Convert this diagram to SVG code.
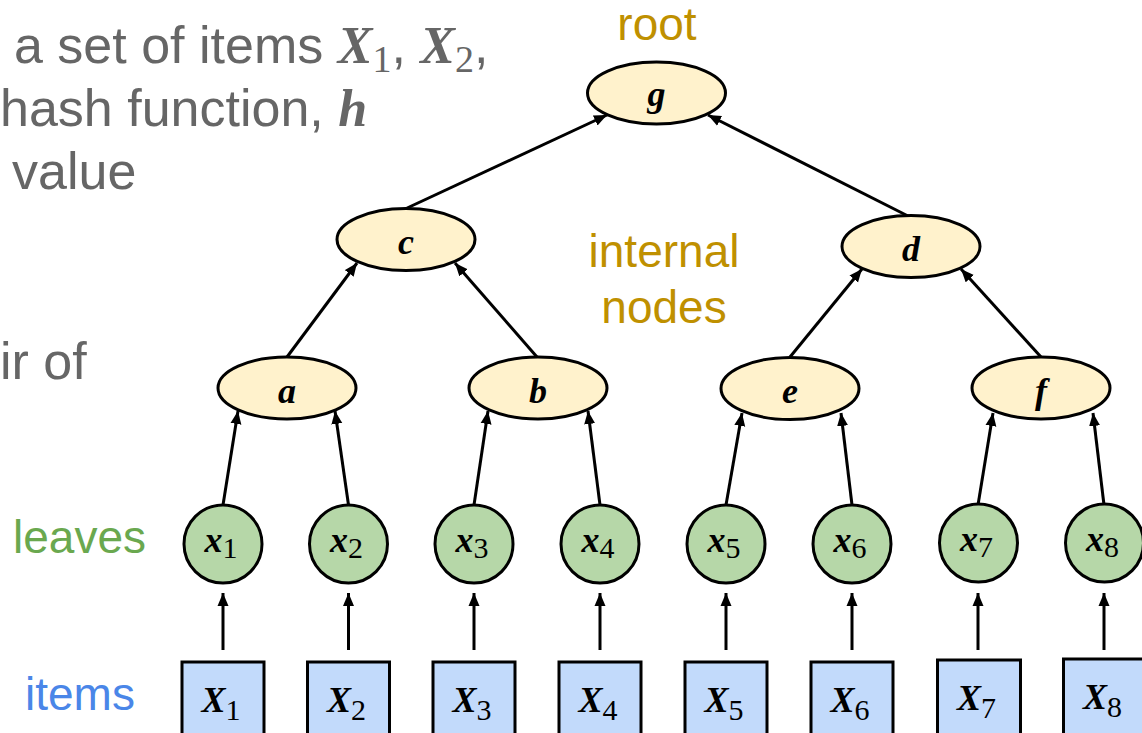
<svg xmlns="http://www.w3.org/2000/svg" width="1142" height="733" viewBox="0 0 1142 733">
  <style>
    .caption { font-family: "Liberation Sans", Arial, sans-serif; font-size: 52px; fill: #666666; }
    .tag { font-family: "Liberation Sans", Arial, sans-serif; font-size: 46px; }
    .math { font-family: "Liberation Serif", "Times New Roman", serif; font-weight: bold; font-style: italic; }
    .sub { font-family: "Liberation Serif", "Times New Roman", serif; font-weight: normal; font-style: normal; }
    .internal ellipse { fill: #fff2cc; stroke: #000; stroke-width: 3; }
    .leaf circle { fill: #b6d7a8; stroke: #000; stroke-width: 3; }
    .item rect { fill: #c2dafb; stroke: #000; stroke-width: 3; }
    .lbl { font-family: "Liberation Serif", "Times New Roman", serif; font-weight: bold; font-style: italic; font-size: 36px; fill: #000; text-anchor: middle; }
    .edges line { stroke: #000; stroke-width: 3; marker-end: url(#tip); }
  </style>
  <defs>
    <marker id="tip" markerUnits="userSpaceOnUse" markerWidth="14" markerHeight="12" refX="13" refY="6" orient="auto">
      <path d="M0,0.5 L13,6 L0,11.5 Z" fill="#000"/>
    </marker>
  </defs>

  <rect width="1142" height="733" fill="#ffffff"/>

  <!-- explanatory text on the left -->
  <g id="caption">
    <text class="caption" x="14" y="63">a set of items <tspan class="math">X</tspan><tspan class="sub" font-size="38" dy="9">1</tspan><tspan dy="-9">, </tspan><tspan class="math">X</tspan><tspan class="sub" font-size="38" dy="9">2</tspan><tspan dy="-9">,</tspan></text>
    <text class="caption" x="0" y="126">hash function, <tspan class="math">h</tspan></text>
    <text class="caption" x="12" y="189">value</text>
    <text class="caption" x="0" y="379">ir of</text>
  </g>

  <!-- level labels -->
  <g id="labels">
    <text class="tag" x="657" y="40" fill="#bf9000" text-anchor="middle">root</text>
    <text class="tag" x="664" y="267" fill="#bf9000" text-anchor="middle">internal</text>
    <text class="tag" x="664" y="323" fill="#bf9000" text-anchor="middle">nodes</text>
    <text class="tag" x="13" y="553" fill="#6aa84f">leaves</text>
    <text class="tag" x="25" y="710" fill="#4a86e8">items</text>
  </g>

  <!-- connectors -->
  <g id="edges" class="edges">
    <!-- internal levels -->
    <line x1="405" y1="209" x2="607" y2="115"/>
    <line x1="910" y1="217" x2="708" y2="115"/>
    <line x1="287" y1="357" x2="357" y2="263"/>
    <line x1="537" y1="357" x2="455" y2="263"/>
    <line x1="790" y1="357" x2="862" y2="269"/>
    <line x1="1041" y1="357" x2="961" y2="269"/>
    <!-- leaves to parents -->
    <line x1="223" y1="505" x2="238" y2="411"/>
    <line x1="348.5" y1="505" x2="335" y2="411"/>
    <line x1="474" y1="505" x2="488" y2="411"/>
    <line x1="600" y1="505" x2="588" y2="411"/>
    <line x1="726" y1="505" x2="742" y2="413"/>
    <line x1="852" y1="505" x2="841" y2="413"/>
    <line x1="978" y1="505" x2="993" y2="413"/>
    <line x1="1104" y1="505" x2="1093" y2="413"/>
    <!-- items to leaves -->
    <line x1="223" y1="650" x2="223" y2="593"/>
    <line x1="348.5" y1="650" x2="348.5" y2="593"/>
    <line x1="474" y1="650" x2="474" y2="593"/>
    <line x1="600" y1="650" x2="600" y2="593"/>
    <line x1="726" y1="650" x2="726" y2="593"/>
    <line x1="852" y1="650" x2="852" y2="593"/>
    <line x1="978" y1="650" x2="978" y2="593"/>
    <line x1="1104" y1="650" x2="1104" y2="593"/>
  </g>

  <!-- internal nodes -->
  <g id="node-g" class="internal"><ellipse cx="656.5" cy="93" rx="69" ry="31"/><text class="lbl" x="656.5" y="106">g</text></g>
  <g id="node-c" class="internal"><ellipse cx="406" cy="239.5" rx="69" ry="31"/><text class="lbl" x="406" y="254">c</text></g>
  <g id="node-d" class="internal"><ellipse cx="911" cy="246.5" rx="69" ry="31"/><text class="lbl" x="911" y="261">d</text></g>
  <g id="node-a" class="internal"><ellipse cx="287" cy="388" rx="69" ry="31"/><text class="lbl" x="287" y="403">a</text></g>
  <g id="node-b" class="internal"><ellipse cx="538" cy="388" rx="69" ry="31"/><text class="lbl" x="538" y="403">b</text></g>
  <g id="node-e" class="internal"><ellipse cx="790" cy="388.5" rx="69" ry="31"/><text class="lbl" x="790" y="403">e</text></g>
  <g id="node-f" class="internal"><ellipse cx="1041" cy="388" rx="69" ry="31"/><text class="lbl" x="1041" y="403">f</text></g>

  <!-- leaves -->
  <g id="leaf-1" class="leaf"><circle cx="223" cy="544" r="39"/><text class="lbl" x="221" y="552" font-size="40">x<tspan class="sub" font-size="30" dy="6">1</tspan></text></g>
  <g id="leaf-2" class="leaf"><circle cx="348.5" cy="544" r="39"/><text class="lbl" x="346.5" y="552" font-size="40">x<tspan class="sub" font-size="30" dy="6">2</tspan></text></g>
  <g id="leaf-3" class="leaf"><circle cx="474" cy="544" r="39"/><text class="lbl" x="472" y="552" font-size="40">x<tspan class="sub" font-size="30" dy="6">3</tspan></text></g>
  <g id="leaf-4" class="leaf"><circle cx="600" cy="544" r="39"/><text class="lbl" x="598" y="552" font-size="40">x<tspan class="sub" font-size="30" dy="6">4</tspan></text></g>
  <g id="leaf-5" class="leaf"><circle cx="726" cy="544" r="39"/><text class="lbl" x="724" y="552" font-size="40">x<tspan class="sub" font-size="30" dy="6">5</tspan></text></g>
  <g id="leaf-6" class="leaf"><circle cx="852" cy="544" r="39"/><text class="lbl" x="850" y="552" font-size="40">x<tspan class="sub" font-size="30" dy="6">6</tspan></text></g>
  <g id="leaf-7" class="leaf"><circle cx="978.5" cy="543" r="39"/><text class="lbl" x="976.5" y="551" font-size="40">x<tspan class="sub" font-size="30" dy="6">7</tspan></text></g>
  <g id="leaf-8" class="leaf"><circle cx="1104.5" cy="543" r="39"/><text class="lbl" x="1102.5" y="551" font-size="40">x<tspan class="sub" font-size="30" dy="6">8</tspan></text></g>

  <!-- items -->
  <g id="item-1" class="item"><rect x="182" y="662" width="82" height="80"/><text class="lbl" x="221" y="712" font-size="42">X<tspan class="sub" font-size="30" dy="8">1</tspan></text></g>
  <g id="item-2" class="item"><rect x="307.5" y="662" width="82" height="80"/><text class="lbl" x="346.5" y="712" font-size="42">X<tspan class="sub" font-size="30" dy="8">2</tspan></text></g>
  <g id="item-3" class="item"><rect x="433" y="662" width="82" height="80"/><text class="lbl" x="472" y="712" font-size="42">X<tspan class="sub" font-size="30" dy="8">3</tspan></text></g>
  <g id="item-4" class="item"><rect x="559" y="662" width="82" height="80"/><text class="lbl" x="598" y="712" font-size="42">X<tspan class="sub" font-size="30" dy="8">4</tspan></text></g>
  <g id="item-5" class="item"><rect x="685" y="662" width="82" height="80"/><text class="lbl" x="724" y="712" font-size="42">X<tspan class="sub" font-size="30" dy="8">5</tspan></text></g>
  <g id="item-6" class="item"><rect x="811" y="662" width="82" height="80"/><text class="lbl" x="850" y="712" font-size="42">X<tspan class="sub" font-size="30" dy="8">6</tspan></text></g>
  <g id="item-7" class="item"><rect x="937.5" y="660" width="83" height="80"/><text class="lbl" x="976.5" y="710" font-size="42">X<tspan class="sub" font-size="30" dy="8">7</tspan></text></g>
  <g id="item-8" class="item"><rect x="1063.5" y="659" width="83" height="80"/><text class="lbl" x="1102.5" y="709" font-size="42">X<tspan class="sub" font-size="30" dy="8">8</tspan></text></g>
</svg>
